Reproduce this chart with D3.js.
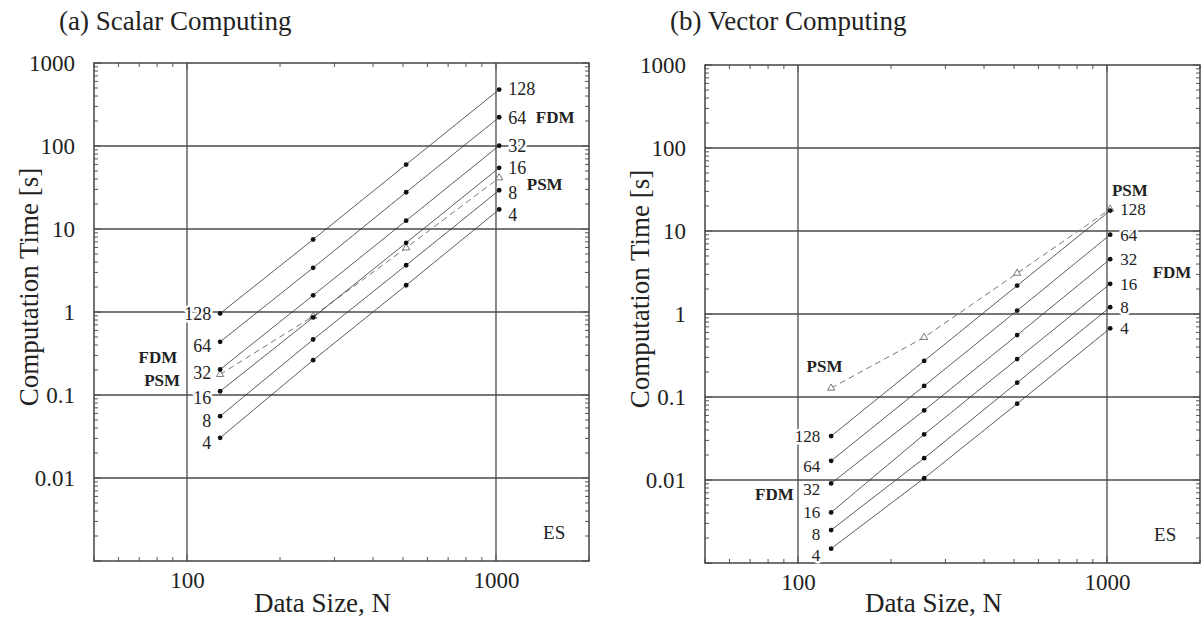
<!DOCTYPE html>
<html>
<head>
<meta charset="utf-8">
<script src="https://cdn.jsdelivr.net/npm/d3@7"></script>
<style>
  body { margin: 0; background: #fff; }
  text { font-family: "Liberation Serif", "Times New Roman", serif; fill: #222; }
</style>
</head>
<body>
<svg id="chart" width="1204" height="619"></svg>
<script>
// data sizes N and processor counts
const sizes = [128, 256, 512, 1024];
const procs = [128, 64, 32, 16, 8, 4];

// computation time [s], one row per processor count (same order as procs)
const scalarFDM = [
  [0.96, 7.47, 59.8, 479],
  [0.437, 3.41, 27.7, 222],
  [0.203, 1.59, 12.6, 101],
  [0.111, 0.86, 6.82, 54.6],
  [0.0556, 0.466, 3.66, 29.3],
  [0.0305, 0.263, 2.10, 17.2]
];
const scalarPSM = [0.177, 0.89, 5.93, 41.4];

const vectorFDM = [
  [0.0338, 0.272, 2.20, 17.6],
  [0.0170, 0.136, 1.10, 9.02],
  [0.0091, 0.069, 0.557, 4.58],
  [0.00407, 0.0354, 0.286, 2.31],
  [0.00249, 0.0183, 0.149, 1.21],
  [0.00149, 0.0105, 0.083, 0.672]
];
const vectorPSM = [0.128, 0.523, 3.10, 18.4];

const yTickLabels = [1000, 100, 10, 1, 0.1, 0.01];
const xTickLabels = [100, 1000];

// bold method names, placed in data units
const scalarNotes = [
  { text: "FDM", n: 93, v: 0.29, anchor: "end" },
  { text: "PSM", n: 95, v: 0.15, anchor: "end" },
  { text: "FDM", n: 1345, v: 222, anchor: "start" },
  { text: "PSM", n: 1258, v: 34.4, anchor: "start" }
];
const vectorNotes = [
  { text: "PSM", n: 106.6, v: 0.235, anchor: "start" },
  { text: "FDM", n: 96.9, v: 0.00685, anchor: "end" },
  { text: "PSM", n: 1038, v: 31, anchor: "start" },
  { text: "FDM", n: 1406, v: 3.22, anchor: "start" }
];

const svg = d3.select("#chart");

const panels = [
  { title: "(a) Scalar Computing", x0: 94, x1: 589, y0: 63, y1: 561,
    fdm: scalarFDM, psm: scalarPSM, notes: scalarNotes, lpad: 9, rpad: 9,
    fs: 18, lshift: [0, 4, 3, 6, 5, 5], rshift: [-1, 0, 0, 0, 2, 5] },
  { title: "(b) Vector Computing", x0: 705, x1: 1200, y0: 65, y1: 563,
    fdm: vectorFDM, psm: vectorPSM, notes: vectorNotes, lpad: 11, rpad: 10,
    fs: 17, lshift: [0, 5, 6, 0, 4, 6], rshift: [-2, 0, 0, 0, 0, 0] }
];

function halo(sel) {
  return sel.attr("stroke", "#fff").attr("stroke-width", 5)
    .attr("paint-order", "stroke").attr("stroke-linejoin", "round");
}

panels.forEach(p => {
  const g = svg.append("g");
  const x = d3.scaleLog().domain([50, 2000]).range([p.x0, p.x1]);
  const y = d3.scaleLog().domain([0.001, 1000]).range([p.y1, p.y0]);

  // grid
  g.selectAll(".hgrid").data(yTickLabels.slice(1)).join("line")
    .attr("x1", p.x0).attr("x2", p.x1)
    .attr("y1", d => y(d)).attr("y2", d => y(d))
    .attr("stroke", "#4a4a4a").attr("stroke-width", 1.3);
  g.selectAll(".vgrid").data(xTickLabels).join("line")
    .attr("x1", d => x(d)).attr("x2", d => x(d))
    .attr("y1", p.y0).attr("y2", p.y1)
    .attr("stroke", "#4a4a4a").attr("stroke-width", 1.3);

  // inward ticks on all sides
  const isDecade = v => Math.abs(Math.log10(v) - Math.round(Math.log10(v))) < 1e-6;
  const yt = y.ticks();
  const xt = x.ticks();
  g.selectAll(".ytl").data(yt).join("line")
    .attr("x1", p.x0).attr("x2", d => p.x0 + (isDecade(d) ? 7 : 4))
    .attr("y1", d => y(d)).attr("y2", d => y(d))
    .attr("stroke", "#555").attr("stroke-width", 1);
  g.selectAll(".ytr").data(yt).join("line")
    .attr("x1", p.x1).attr("x2", d => p.x1 - (isDecade(d) ? 7 : 4))
    .attr("y1", d => y(d)).attr("y2", d => y(d))
    .attr("stroke", "#555").attr("stroke-width", 1);
  g.selectAll(".xtb").data(xt).join("line")
    .attr("x1", d => x(d)).attr("x2", d => x(d))
    .attr("y1", p.y1).attr("y2", d => p.y1 - (isDecade(d) ? 7 : 4))
    .attr("stroke", "#555").attr("stroke-width", 1);
  g.selectAll(".xtt").data(xt).join("line")
    .attr("x1", d => x(d)).attr("x2", d => x(d))
    .attr("y1", p.y0).attr("y2", d => p.y0 + (isDecade(d) ? 7 : 4))
    .attr("stroke", "#555").attr("stroke-width", 1);

  // frame
  g.append("rect").attr("x", p.x0).attr("y", p.y0)
    .attr("width", p.x1 - p.x0).attr("height", p.y1 - p.y0)
    .attr("fill", "none").attr("stroke", "#444").attr("stroke-width", 1.5);

  // tick labels
  const ax = g.append("g").attr("transform", `translate(${p.x0},0)`)
    .call(d3.axisLeft(y).tickValues(yTickLabels).tickFormat(d3.format("~g"))
      .tickSize(0).tickPadding(19));
  ax.select(".domain").remove();
  ax.selectAll("text").attr("font-size", 23).attr("font-family", "Liberation Serif").attr("fill", "#222");
  const bx = g.append("g").attr("transform", `translate(0,${p.y1})`)
    .call(d3.axisBottom(x).tickValues(xTickLabels).tickFormat(d3.format("d"))
      .tickSize(0).tickPadding(11));
  bx.select(".domain").remove();
  bx.selectAll("text").attr("font-size", 23).attr("font-family", "Liberation Serif").attr("fill", "#222");

  // titles
  g.append("text").attr("x", p.x0 - 35).attr("y", 30)
    .attr("font-size", 27).text(p.title);
  g.append("text")
    .attr("transform", `translate(${p.x0 - 56},${(p.y0 + p.y1) / 2 - 25}) rotate(-90)`)
    .attr("text-anchor", "middle").attr("font-size", 27).text("Computation Time [s]");
  g.append("text").attr("x", (p.x0 + p.x1) / 2 - 19).attr("y", 612)
    .attr("text-anchor", "middle").attr("font-size", 27).text("Data Size, N");

  const line = d3.line().x((d, i) => x(sizes[i])).y(d => y(d));

  // PSM dashed
  g.append("path").datum(p.psm).attr("d", line)
    .attr("fill", "none").attr("stroke", "#777").attr("stroke-width", 1)
    .attr("stroke-dasharray", "6,4");
  g.selectAll(".tri").data(p.psm).join("path")
    .attr("d", d3.symbol(d3.symbolTriangle, 22))
    .attr("transform", (d, i) => `translate(${x(sizes[i])},${y(d)})`)
    .attr("fill", "#fff").attr("stroke", "#555").attr("stroke-width", 0.8);

  // FDM lines
  p.fdm.forEach(row => {
    g.append("path").datum(row).attr("d", line)
      .attr("fill", "none").attr("stroke", "#333").attr("stroke-width", 0.8);
    g.selectAll(null).data(row).join("circle")
      .attr("cx", (d, i) => x(sizes[i])).attr("cy", d => y(d)).attr("r", 2.4)
      .attr("fill", "#111");
  });

  // processor labels at both ends
  p.fdm.forEach((row, r) => {
    halo(g.append("text")
      .attr("x", x(sizes[0]) - p.lpad).attr("y", y(row[0]) + p.lshift[r])
      .attr("dy", "0.35em").attr("text-anchor", "end").attr("font-size", p.fs)
      .text(procs[r]));
    halo(g.append("text")
      .attr("x", x(sizes[3]) + p.rpad).attr("y", y(row[3]) + p.rshift[r])
      .attr("dy", "0.35em").attr("text-anchor", "start").attr("font-size", p.fs)
      .text(procs[r]));
  });

  p.notes.forEach(nt => {
    halo(g.append("text").attr("x", x(nt.n)).attr("y", y(nt.v))
      .attr("dy", "0.35em").attr("text-anchor", nt.anchor)
      .attr("font-size", 17).attr("font-weight", "bold").text(nt.text));
  });

  g.append("text").attr("x", x(1420)).attr("y", y(0.0022))
    .attr("dy", "0.35em").attr("font-size", 19).text("ES");
});
</script>
</body>
</html>
